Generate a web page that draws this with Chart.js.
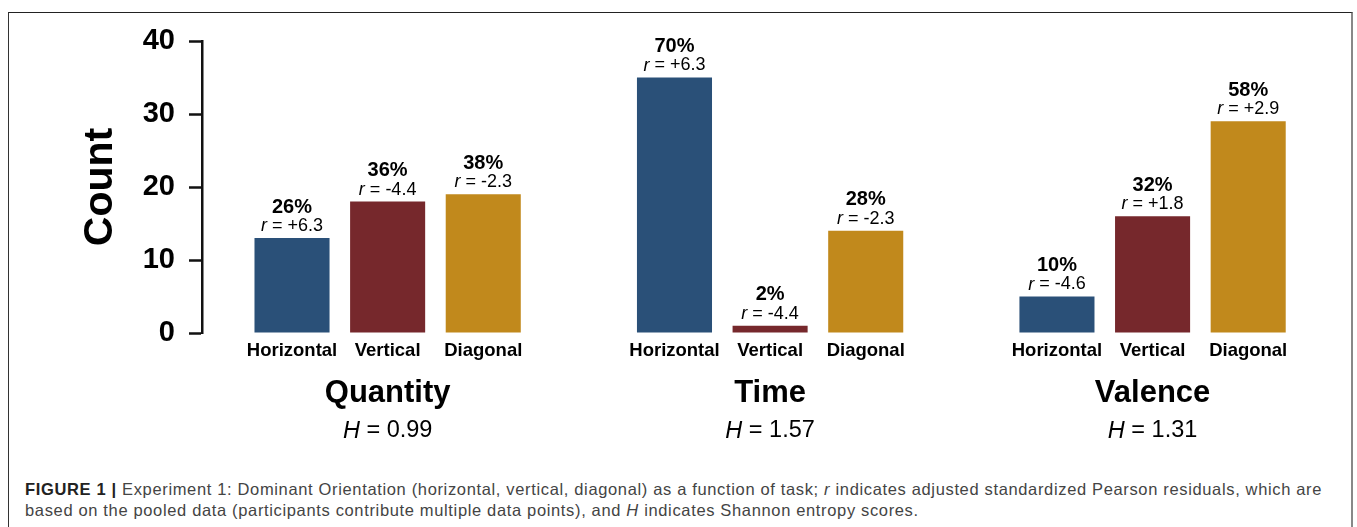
<!DOCTYPE html>
<html><head><meta charset="utf-8">
<script src="https://cdn.jsdelivr.net/npm/chart.js@4/dist/chart.umd.min.js"></script>
<style>
html,body{margin:0;padding:0;background:#fff;width:1357px;height:527px;overflow:hidden;position:relative;}
#frame{position:absolute;left:8px;top:12px;width:1342px;height:600px;border-left:1px solid #333;border-top:1px solid #222;border-right:2px solid #888;}
#c{position:absolute;left:0;top:0;}
#cap{position:absolute;left:25px;top:479px;font:16.5px "Liberation Sans",Arial,sans-serif;letter-spacing:0.65px;color:#444;line-height:21px;white-space:nowrap;}
#cap b{color:#222;}
</style></head>
<body>
<div id="frame"></div>
<canvas id="c" width="1357" height="460"></canvas>
<div id="cap"><b>FIGURE 1 |</b> Experiment 1: Dominant Orientation (horizontal, vertical, diagonal) as a function of task; <i>r</i> indicates adjusted standardized Pearson residuals, which are<br>based on the pooled data (participants contribute multiple data points), and <i>H</i> indicates Shannon entropy scores.</div>
<script>
const tasks = ['Quantity', 'Time', 'Valence'];
const categories = ['Horizontal', 'Vertical', 'Diagonal'];
const entropy = ['0.99', '1.57', '1.31'];
const quantityCounts = [13, 18, 19];
const timeCounts = [35, 1, 14];
const valenceCounts = [5, 16, 29];
const quantityPct = [26, 36, 38];
const timePct = [70, 2, 28];
const valencePct = [10, 32, 58];
const quantityR = ['+6.3', '-4.4', '-2.3'];
const timeR = ['+6.3', '-4.4', '-2.3'];
const valenceR = ['-4.6', '+1.8', '+2.9'];
const yTicks = [0, 10, 20, 30, 40];

const FONT = '"Liberation Sans", Arial, Helvetica, sans-serif';
const colors = ['#2A5078', '#76282C', '#C1891C'];

const counts = [quantityCounts, timeCounts, valenceCounts];
const pcts = [quantityPct, timePct, valencePct];
const rs = [quantityR, timeR, valenceR];

// layout: each task group occupies 4 slots (3 bars + 1 gap)
const points = [], pointColors = [], pointInfo = [], xTickVals = [], xTickLabels = [];
tasks.forEach((t, g) => {
  categories.forEach((c, k) => {
    const xv = g * 4 + k + 1;
    points.push({ x: xv, y: counts[g][k] });
    pointColors.push(colors[k]);
    pointInfo.push({ pct: pcts[g][k], r: rs[g][k] });
    xTickVals.push(xv);
    xTickLabels.push(c);
  });
});
const groupCenters = tasks.map((t, g) => g * 4 + 2);

const annot = {
  id: 'annot',
  afterDraw(chart) {
    const ctx = chart.ctx, xs = chart.scales.x, ys = chart.scales.y;
    ctx.save();
    ctx.fillStyle = '#000';
    ctx.textBaseline = 'middle';
    points.forEach((p, i) => {
      const x = xs.getPixelForValue(p.x);
      const top = ys.getPixelForValue(p.y);
      ctx.textAlign = 'center';
      ctx.font = 'bold 20px ' + FONT;
      ctx.fillText(pointInfo[i].pct + '%', x, top - 31);
      ctx.font = 'italic 18px ' + FONT;
      const a = 'r';
      const wa = ctx.measureText(a).width;
      ctx.font = '18px ' + FONT;
      const b = ' = ' + pointInfo[i].r;
      const wb = ctx.measureText(b).width;
      const x0 = x - (wa + wb) / 2;
      ctx.textAlign = 'left';
      ctx.font = 'italic 18px ' + FONT;
      ctx.fillText(a, x0, top - 12);
      ctx.font = '18px ' + FONT;
      ctx.fillText(b, x0 + wa, top - 12);
    });
    tasks.forEach((t, g) => {
      const x = xs.getPixelForValue(groupCenters[g]);
      ctx.textAlign = 'center';
      ctx.font = 'bold 31px ' + FONT;
      ctx.fillText(t, x, 393);
      ctx.font = 'italic 23.5px ' + FONT;
      const a = 'H';
      const wa = ctx.measureText(a).width;
      ctx.font = '23.5px ' + FONT;
      const b = ' = ' + entropy[g];
      const wb = ctx.measureText(b).width;
      const x0 = x - (wa + wb) / 2;
      ctx.textAlign = 'left';
      ctx.font = 'italic 23.5px ' + FONT;
      ctx.fillText(a, x0, 431);
      ctx.font = '23.5px ' + FONT;
      ctx.fillText(b, x0 + wa, 431);
    });
    ctx.restore();
  }
};

new Chart(document.getElementById('c'), {
  type: 'bar',
  data: {
    datasets: [{
      data: points,
      backgroundColor: pointColors,
      borderWidth: 0,
      barPercentage: 0.785,
      categoryPercentage: 1.0
    }]
  },
  options: {
    responsive: false,
    animation: false,
    events: [],
    layout: { padding: { top: 41, right: 61, left: 0, bottom: 0 } },
    plugins: { legend: { display: false }, tooltip: { enabled: false } },
    scales: {
      x: {
        type: 'linear',
        offset: false,
        min: 0.0586,
        max: 11.5,
        grid: { display: false, drawTicks: false },
        border: { display: false },
        afterBuildTicks: (s) => { s.ticks = xTickVals.map(v => ({ value: v })); },
        afterFit: (s) => { s.height = 127; },
        ticks: {
          autoSkip: false,
          maxRotation: 0,
          padding: 7,
          color: '#000',
          font: { family: FONT, weight: 'bold', size: 18.5 },
          callback: (v, i) => xTickLabels[i]
        }
      },
      y: {
        min: 0,
        max: 40,
        afterBuildTicks: (s) => { s.ticks = yTicks.map(v => ({ value: v })); },
        afterFit: (s) => { s.width = 202; },
        grid: { drawOnChartArea: false, drawTicks: true, tickLength: 13, tickWidth: 2.5, tickColor: '#111' },
        border: { display: true, color: '#111', width: 2.5 },
        ticks: {
          padding: 14,
          color: '#000',
          font: { family: FONT, weight: 'bold', size: 29 }
        },
        title: {
          display: true,
          text: 'Count',
          color: '#000',
          font: { family: FONT, weight: 'bold', size: 41 },
          padding: { top: 76, bottom: 0 }
        }
      }
    }
  },
  plugins: [annot]
});
</script>
</body></html>
